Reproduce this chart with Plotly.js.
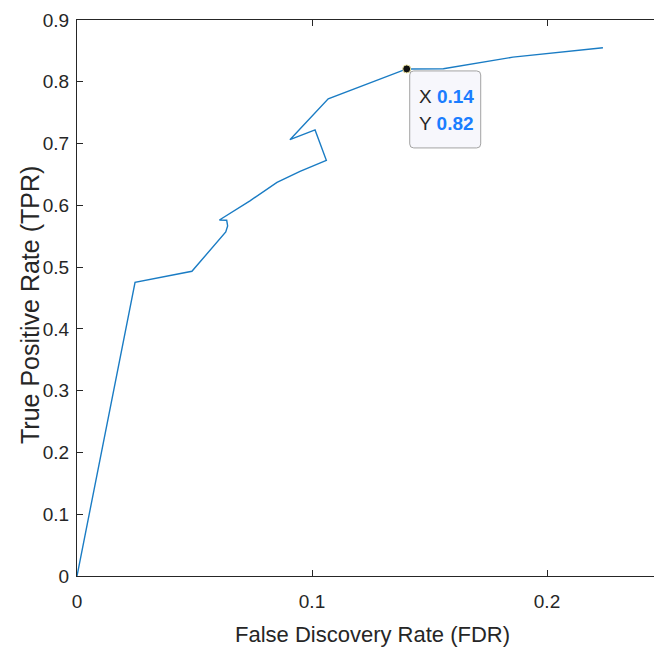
<!DOCTYPE html>
<html>
<head>
<meta charset="utf-8">
<script src="https://cdn.plot.ly/plotly-3.0.1.min.js"></script>
<style>html,body{margin:0;padding:0;background:#fff;}#chart{width:654px;height:647px;}</style>
</head>
<body>
<div id="chart"></div>
<script>
// Data (FDR vs TPR curve)
const fdrValues = [0, 0.0247, 0.0489, 0.0633, 0.0641, 0.0637, 0.0606, 0.0736, 0.0851, 0.0949, 0.1061, 0.1013, 0.0906, 0.1069, 0.1403, 0.1559, 0.1855, 0.2238];
const tprValues = [0, 0.4755, 0.4933, 0.5568, 0.5666, 0.5758, 0.5763, 0.6073, 0.6372, 0.6550, 0.6728, 0.7221, 0.7063, 0.7723, 0.8208, 0.8211, 0.8399, 0.8551];
const xTicks = [0, 0.1, 0.2];
const xTickLabels = ['0', '0.1', '0.2'];
const yTicks = [0, 0.1, 0.2, 0.3, 0.4, 0.5, 0.6, 0.7, 0.8, 0.9];
const yTickLabels = ['0', '0.1', '0.2', '0.3', '0.4', '0.5', '0.6', '0.7', '0.8', '0.9'];
const xTitle = 'False Discovery Rate (FDR)';
const yTitle = 'True Positive Rate (TPR)';
const tipIndex = 14;
const tipXLabel = '0.14';
const tipYLabel = '0.82';

const fontFam = 'Liberation Sans, Arial, sans-serif';
const axisColor = '#262626';

const tipX = fdrValues[tipIndex];
const tipY = tprValues[tipIndex];

const traces = [
  {
    x: fdrValues, y: tprValues, type: 'scatter', mode: 'lines',
    line: {color: '#1a7cc4', width: 1.4},
    hoverinfo: 'none', showlegend: false
  },
  {
    x: [tipX], y: [tipY], type: 'scatter', mode: 'markers',
    marker: {color: '#111111', size: 8, line: {color: '#e8e0a0', width: 1}},
    hoverinfo: 'none', showlegend: false
  }
];

const layout = {
  width: 654, height: 647,
  margin: {l: 77, r: 0, t: 20, b: 71, pad: 0},
  paper_bgcolor: '#ffffff', plot_bgcolor: '#ffffff',
  showlegend: false,
  xaxis: {
    range: [0, 0.24553], autorange: false,
    tickvals: xTicks, ticktext: xTickLabels,
    ticks: 'inside', ticklen: 6, tickwidth: 1, tickcolor: axisColor,
    showline: true, linecolor: axisColor, linewidth: 1, mirror: 'ticks',
    showgrid: false, zeroline: false,
    tickfont: {family: fontFam, size: 19, color: axisColor},
    ticklabelstandoff: 8
  },
  yaxis: {
    range: [0, 0.9], autorange: false,
    tickvals: yTicks, ticktext: yTickLabels,
    ticks: 'inside', ticklen: 6, tickwidth: 1, tickcolor: axisColor,
    showline: true, linecolor: axisColor, linewidth: 1, mirror: false,
    showgrid: false, zeroline: false,
    tickfont: {family: fontFam, size: 19, color: axisColor},
    ticklabelstandoff: 3
  },
  shapes: [
    {
      type: 'path', xref: 'x', yref: 'y',
      xsizemode: 'pixel', ysizemode: 'pixel',
      xanchor: tipX, yanchor: tipY,
      path: 'M 7,-2 L 70,-2 Q 74,-2 74,-6 L 74,-75 Q 74,-79 70,-79 L 7,-79 Q 3,-79 3,-75 L 3,-6 Q 3,-2 7,-2 Z',
      fillcolor: '#f7f7fc', line: {color: '#a3a3a3', width: 1},
      layer: 'above'
    }
  ],
  annotations: [
    {
      x: 0.5113, y: 0, xref: 'paper', yref: 'paper', xanchor: 'center', yanchor: 'middle',
      yshift: -58, showarrow: false, text: xTitle,
      font: {family: fontFam, size: 22, color: axisColor}
    },
    {
      x: 0, y: 0.4874, xref: 'paper', yref: 'paper', xanchor: 'center', yanchor: 'middle',
      xshift: -47, showarrow: false, textangle: -90, text: yTitle,
      font: {family: fontFam, size: 25, color: axisColor}
    },
    {
      x: tipX, y: tipY, xref: 'x', yref: 'y', xanchor: 'left', yanchor: 'middle',
      xshift: 10, yshift: -28, showarrow: false, align: 'left',
      text: 'X <b><span style="color:#1a7dff">' + tipXLabel + '</span></b>',
      font: {family: fontFam, size: 19, color: axisColor}
    },
    {
      x: tipX, y: tipY, xref: 'x', yref: 'y', xanchor: 'left', yanchor: 'middle',
      xshift: 10, yshift: -55, showarrow: false, align: 'left',
      text: 'Y <b><span style="color:#1a7dff">' + tipYLabel + '</span></b>',
      font: {family: fontFam, size: 19, color: axisColor}
    }
  ]
};

Plotly.newPlot('chart', traces, layout, {displayModeBar: false, staticPlot: true});
</script>
</body>
</html>
